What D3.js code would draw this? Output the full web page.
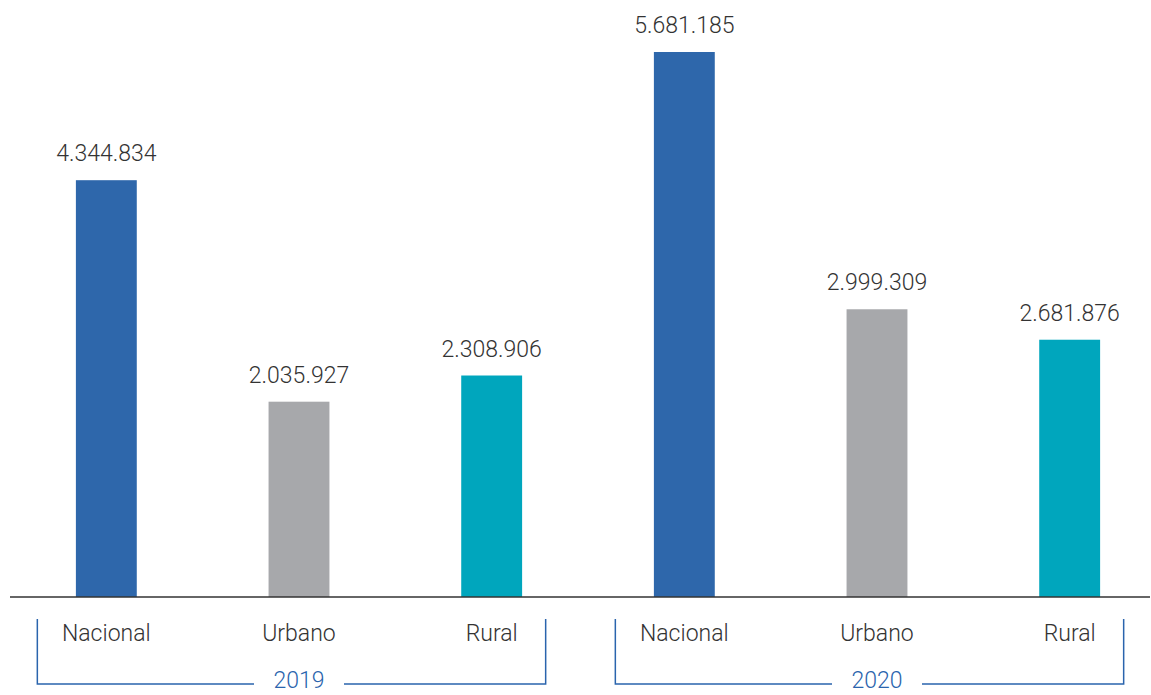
<!DOCTYPE html>
<html>
<head>
<meta charset="utf-8">
<script src="https://cdn.jsdelivr.net/npm/d3@7"></script>
<style>
  body { margin: 0; background: #fff; }
  text { font-family: Roboto, "Liberation Sans", sans-serif; font-weight: 300; }
</style>
</head>
<body>
<div id="chart"></div>
<script>
const years = ["2019", "2020"];
const categories = ["Nacional", "Urbano", "Rural"];
const values2019 = [4344834, 2035927, 2308906];
const values2020 = [5681185, 2999309, 2681876];
const colors = ["#2e67ab", "#a7a8ab", "#00a6bd"];

(function(){
    const width = 1151, height = 695;
    const baseY = 597;

    // flatten into one row per bar
    const rows = [];
    years.forEach(function(yr, i) {
        const vals = i === 0 ? values2019 : values2020;
        categories.forEach(function(c, j) {
            rows.push({key: yr + "-" + c, year: yr, cat: c, value: vals[j], color: colors[j]});
        });
    });

    const svg = d3.select("#chart").append("svg")
        .attr("width", width)
        .attr("height", height);

    const x = d3.scaleBand()
        .domain(rows.map(function(d) { return d.key; }))
        .range([10, 1166])
        .paddingInner(0.684)
        .paddingOuter(0.342);

    const y = d3.scaleLinear()
        .domain([0, d3.max(rows, function(d) { return d.value; })])
        .range([baseY, 52]);

    const fmt = d3.formatLocale({decimal: ",", thousands: ".", grouping: [3], currency: ["", ""]}).format(",d");

    // bars
    svg.selectAll(".bar")
        .data(rows)
        .enter().append("rect")
        .attr("class", "bar")
        .attr("x", function(d) { return x(d.key); })
        .attr("y", function(d) { return y(d.value); })
        .attr("width", x.bandwidth())
        .attr("height", function(d) { return baseY - y(d.value); })
        .attr("fill", function(d) { return d.color; });

    // value labels
    svg.selectAll(".val")
        .data(rows)
        .enter().append("text")
        .attr("class", "val")
        .attr("x", function(d) { return x(d.key) + x.bandwidth() / 2; })
        .attr("y", function(d) { return y(d.value) - 19; })
        .attr("text-anchor", "middle")
        .attr("font-size", 23)
        .attr("fill", "#333")
        .text(function(d) { return fmt(d.value); });

    // baseline
    svg.append("line")
        .attr("x1", 10).attr("x2", 1150)
        .attr("y1", baseY).attr("y2", baseY)
        .attr("stroke", "#333")
        .attr("stroke-width", 1.5);

    // category labels
    svg.selectAll(".cat")
        .data(rows)
        .enter().append("text")
        .attr("class", "cat")
        .attr("x", function(d) { return x(d.key) + x.bandwidth() / 2; })
        .attr("y", 641)
        .attr("text-anchor", "middle")
        .attr("font-size", 23)
        .attr("fill", "#333")
        .text(function(d) { return d.cat; });

    // year brackets
    const blue = "#2a64ad";
    years.forEach(function(yr) {
        const first = x(yr + "-" + categories[0]) + x.bandwidth() / 2;
        const mid = x(yr + "-" + categories[1]) + x.bandwidth() / 2;
        const last = x(yr + "-" + categories[2]) + x.bandwidth() / 2;
        const left = first - 69, right = last + 54;
        const top = 619, bot = 684;
        const g = svg.append("g")
            .attr("fill", "none")
            .attr("stroke", blue)
            .attr("stroke-width", 1.5);
        g.append("path").attr("d", "M" + left + "," + top + "V" + bot + "H" + (mid - 45));
        g.append("path").attr("d", "M" + (mid + 45) + "," + bot + "H" + right + "V" + top);
        svg.append("text")
            .attr("x", mid)
            .attr("y", 688)
            .attr("text-anchor", "middle")
            .attr("font-size", 23)
            .attr("fill", blue)
            .text(yr);
    });
})();
</script>
</body>
</html>
